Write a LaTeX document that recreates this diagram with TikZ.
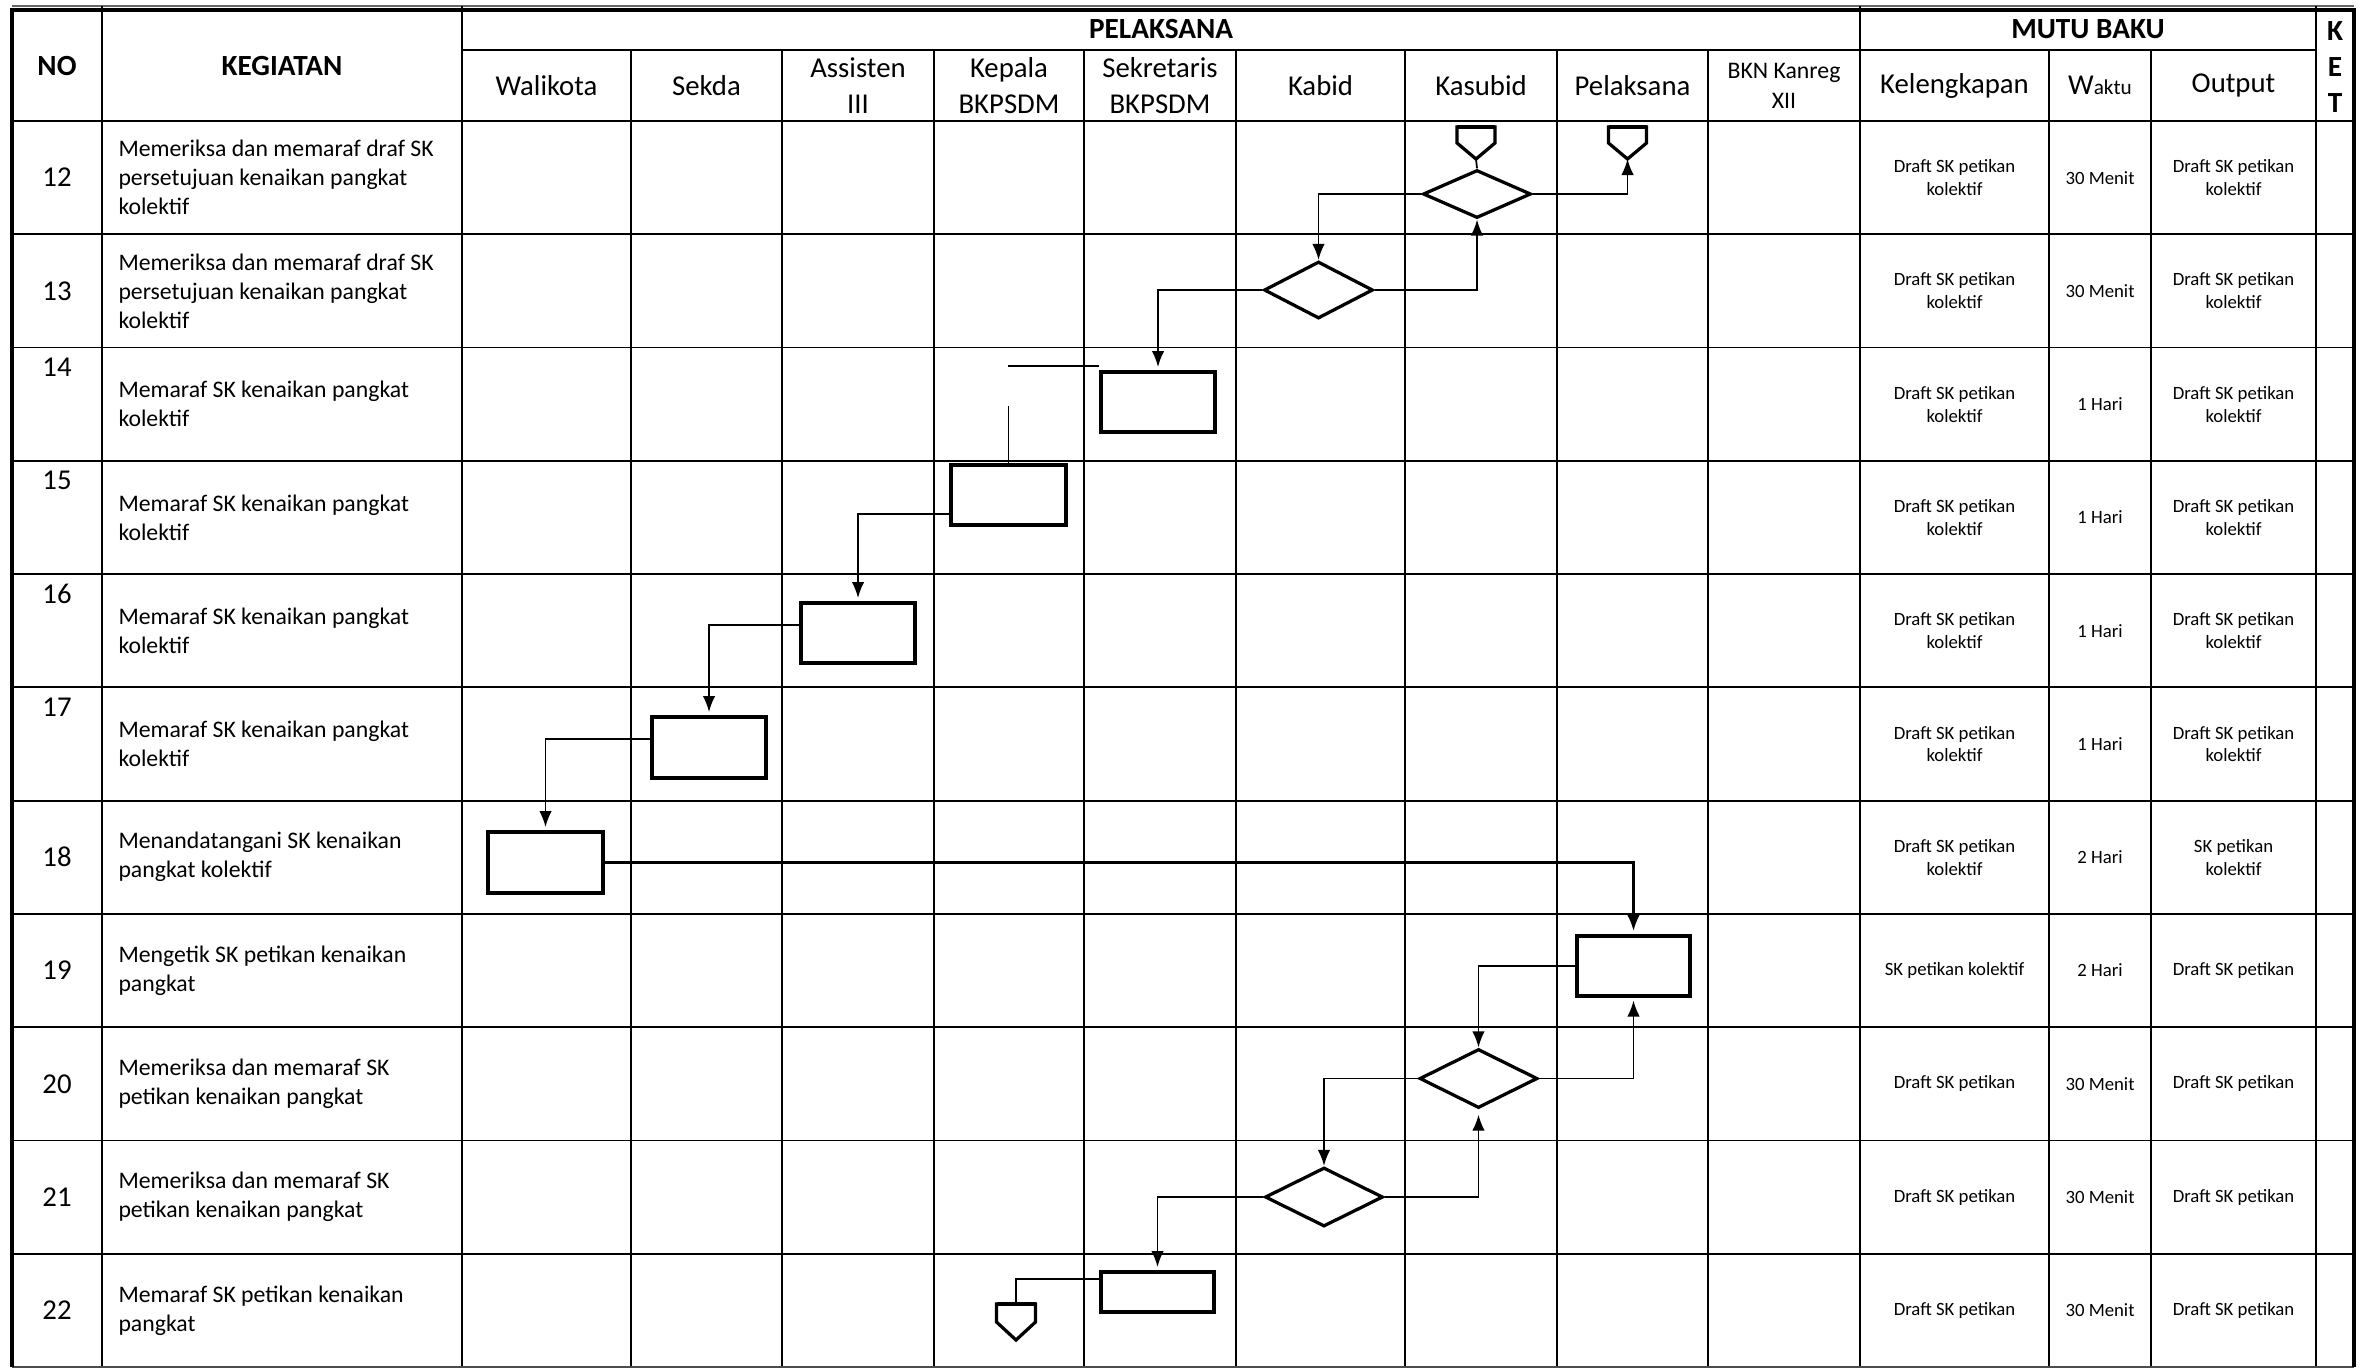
\documentclass[tikz,border=0pt]{standalone}
\usepackage{fontspec}
\setmainfont{Carlito}
\usetikzlibrary{shapes.geometric,arrows.meta,calc}
\begin{document}
\begin{tikzpicture}[x=0.4pt,y=-0.4pt,
  grid/.style={line width=0.7pt},
  outer/.style={line width=1.3pt},
  hdr/.style={font=\bfseries\fontsize{11.7}{14.4}\selectfont, inner sep=0pt, align=center},
  sub/.style={font=\fontsize{11.5}{14.2}\selectfont, inner sep=0pt, align=center},
  subsmall/.style={font=\fontsize{9.5}{12}\selectfont, inner sep=0pt, align=center},
  numtxt/.style={font=\fontsize{11.5}{14}\selectfont, inner sep=0pt},
  kegtxt/.style={font=\fontsize{9.5}{11.6}\selectfont, inner sep=0pt, align=left, anchor=west},
  mututxt/.style={font=\fontsize{7.5}{9.1}\selectfont, inner sep=0pt, align=center},
  proc/.style={draw, line width=1.6pt, inner sep=0pt, rectangle},
  dec/.style={draw, diamond, line width=1.3pt, inner sep=0pt},
  opc/.style={inner sep=0pt, minimum width=14.8pt, minimum height=12.4pt},
  conn/.style={line width=0.7pt},
  arr/.style={-{Latex[length=6.4pt,width=5pt]}}
]
\useasboundingbox (0,0) rectangle (2377,1369);

% ---------- grid ----------
\draw[line width=0.5pt, black!60] (12,6) -- (2354,6);
\foreach \x in {102,462,1860,2316} \draw[grid] (\x,6) -- (\x,1367);
\foreach \x in {631,782,934,1084,1236,1405,1557,1708,2049,2151} \draw[grid] (\x,50) -- (\x,1367);
\draw[grid] (462,50) -- (2316,50);
\draw[grid] (12,121) -- (2354,121);
\foreach \k in {1,...,10} \draw[grid] (12,{121+113.27*\k}) -- (2354,{121+113.27*\k});
\draw[grid, black!70] (12,1367) -- (2354,1367);
\draw[outer] (12,1367) -- (12,10) -- (2354,10) -- (2354,1367);

% ---------- header ----------
\node[hdr] (hno) at (57,66) {NO};
\node[hdr] (hkeg) at (282,66) {KEGIATAN};
\node[hdr] (hpel) at (1161,29) {PELAKSANA};
\node[hdr] (hmutu) at (2088,29) {MUTU BAKU};
\node[hdr] (hket) at (2335,67) {K\\E\\T};
\node[sub] (hwal) at (546.5,85.5) {Walikota};
\node[sub] (hsek) at (706.5,85.5) {Sekda};
\node[sub] (hass) at (858,85.5) {Assisten\\III};
\node[sub] (hkep) at (1009,85.5) {Kepala\\BKPSDM};
\node[sub] (hsekr) at (1160,85.5) {Sekretaris\\BKPSDM};
\node[sub] (hkab) at (1320.5,85.5) {Kabid};
\node[sub] (hkas) at (1481,85.5) {Kasubid};
\node[sub] (hpls) at (1632.5,85.5) {Pelaksana};
\node[subsmall] (hbkn) at (1784,85.5) {BKN Kanreg\\XII};
\node[sub] (hkel) at (1954.5,85.5) {Kelengkapan};
\node[sub] (hwak) at (2100,85.5) {W{\fontsize{8.5}{10}\selectfont aktu}};
\node[sub] (hout) at (2233.5,85.5) {Output};

% ---------- rows ----------
\foreach \i/\no/\ny/\keg/\kel/\wak/\out in {
 1/12/0/{Memeriksa dan memaraf draf SK\\persetujuan kenaikan pangkat\\kolektif}/{Draft SK petikan\\kolektif}/{30 Menit}/{Draft SK petikan\\kolektif},
 2/13/0/{Memeriksa dan memaraf draf SK\\persetujuan kenaikan pangkat\\kolektif}/{Draft SK petikan\\kolektif}/{30 Menit}/{Draft SK petikan\\kolektif},
 3/14/-37/{Memaraf SK kenaikan pangkat\\kolektif}/{Draft SK petikan\\kolektif}/{1 Hari}/{Draft SK petikan\\kolektif},
 4/15/-37/{Memaraf SK kenaikan pangkat\\kolektif}/{Draft SK petikan\\kolektif}/{1 Hari}/{Draft SK petikan\\kolektif},
 5/16/-37/{Memaraf SK kenaikan pangkat\\kolektif}/{Draft SK petikan\\kolektif}/{1 Hari}/{Draft SK petikan\\kolektif},
 6/17/-37/{Memaraf SK kenaikan pangkat\\kolektif}/{Draft SK petikan\\kolektif}/{1 Hari}/{Draft SK petikan\\kolektif},
 7/18/0/{Menandatangani SK kenaikan\\pangkat kolektif}/{Draft SK petikan\\kolektif}/{2 Hari}/{SK petikan\\kolektif},
 8/19/0/{Mengetik SK petikan kenaikan\\pangkat}/{SK petikan kolektif}/{2 Hari}/{Draft SK petikan},
 9/20/0/{Memeriksa dan memaraf SK\\petikan kenaikan pangkat}/{Draft SK petikan}/{30 Menit}/{Draft SK petikan},
 10/21/0/{Memeriksa dan memaraf SK\\petikan kenaikan pangkat}/{Draft SK petikan}/{30 Menit}/{Draft SK petikan},
 11/22/0/{Memaraf SK petikan kenaikan\\pangkat}/{Draft SK petikan}/{30 Menit}/{Draft SK petikan}%
}{
 \pgfmathsetmacro\yc{121+113.27*(\i-0.5)}
 \node[numtxt] (no\no) at (57,\yc+\ny) {\no};
 \node[kegtxt] (keg\no) at (118,\yc) {\keg};
 \node[mututxt] (kel\no) at (1954.5,\yc) {\kel};
 \node[mututxt] (wak\no) at (2100,\yc) {\wak};
 \node[mututxt] (out\no) at (2233.5,\yc) {\out};
}

% ---------- flow shapes ----------
\node[opc] (o12a) at (1476,143) {};
\node[opc] (o12b) at (1627.5,143) {};
\node[opc, minimum width=15.2pt, minimum height=14pt] (o22) at (1016,1322) {};
\foreach \n in {o12a,o12b,o22}{
  \draw[line width=1.3pt, line join=miter] (\n.north west) -- (\n.north east)
    -- ($(\n.north east)!0.5!(\n.south east)$) -- (\n.south)
    -- ($(\n.north west)!0.5!(\n.south west)$) -- cycle;
  \draw[line width=1.8pt] (\n.north west) -- (\n.north east);
}
\node[dec, minimum width=43.2pt, minimum height=19.2pt] (d12) at (1477,194) {};
\node[dec, minimum width=43.6pt, minimum height=22.8pt] (d13) at (1318.5,290) {};
\node[proc, minimum width=45.6pt, minimum height=24pt] (r14) at (1158,402) {};
\node[proc, minimum width=46pt, minimum height=24pt] (r15) at (1008.5,495) {};
\node[proc, minimum width=45.6pt, minimum height=24pt] (r16) at (858,633) {};
\node[proc, minimum width=45.6pt, minimum height=24.4pt] (r17) at (709,747.5) {};
\node[proc, minimum width=46pt, minimum height=24.4pt] (r18) at (545.5,862.5) {};
\node[proc, minimum width=45.2pt, minimum height=24pt] (r19) at (1633.5,966) {};
\node[dec, minimum width=47.2pt, minimum height=23.6pt] (d20) at (1478.5,1078.5) {};
\node[dec, minimum width=47.2pt, minimum height=23.6pt] (d21) at (1324,1197) {};
\node[proc, minimum width=45.2pt, minimum height=16pt] (r22) at (1157.5,1292) {};

% ---------- connectors ----------
\draw[conn] (o12a.south) -- (d12.north);
\draw[conn,arr] (d12.east) -| (o12b.south);
\draw[conn,arr] (d12.west) -| (d13.north);
\draw[conn,arr] (d13.east) -| (d12.south);
\draw[conn,arr] (d13.west) -| ([yshift=1.2pt]r14.north);
\draw[conn] ([yshift=1.6pt]r14.north west) -- ++(-91,0);
\draw[conn] (r15.north) -- ++(0,-57);
\draw[conn,arr] ([yshift=-7.6pt]r15.west) -| ([yshift=1.2pt]r16.north);
\draw[conn,arr] ([yshift=3.2pt]r16.west) -| ([yshift=1.2pt]r17.north);
\draw[conn,arr] ([yshift=3.4pt]r17.west) -| ([yshift=1.2pt]r18.north);
\draw[conn,arr, line width=0.9pt] (r18.east) -| ([yshift=1.2pt]r19.north);
\draw[conn,arr] (r19.west) -| (d20.north);
\draw[conn,arr] (d20.east) -| ([yshift=-1pt]r19.south);
\draw[conn,arr] (d20.west) -| (d21.north);
\draw[conn,arr] (d21.east) -| ([yshift=-2pt]d20.south);
\draw[conn,arr] (d21.west) -| ([yshift=1.2pt]r22.north);
\draw[conn] ([yshift=5.2pt]r22.west) -| (o22.north);
\end{tikzpicture}
\end{document}
